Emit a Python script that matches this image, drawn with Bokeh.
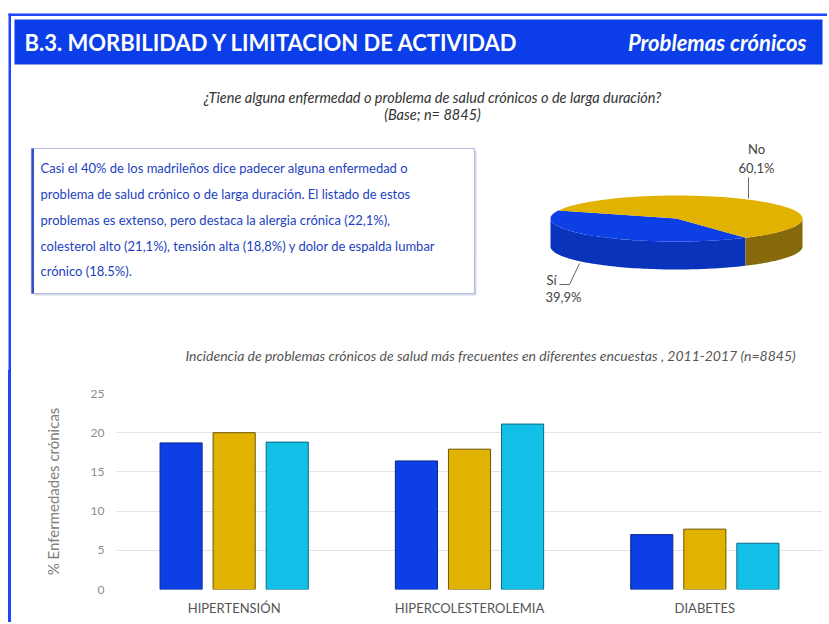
import numpy as np
from bokeh.plotting import figure
from bokeh.models import Range1d, FactorRange, FixedTicker, ColumnDataSource, Spacer
from bokeh.layouts import column, row
from bokeh.transform import dodge
from bokeh.core.properties import value
from bokeh.embed import file_html
from bokeh.resources import INLINE

# ---------------- data ----------------
header_left = "B.3. MORBILIDAD Y LIMITACION DE ACTIVIDAD"
header_right = "Problemas crónicos"
question_lines = ["¿Tiene alguna enfermedad o problema de salud crónicos o de larga duración?",
                  "(Base; n= 8845)"]
summary_lines = [
    "Casi el 40% de los madrileños dice padecer alguna enfermedad o",
    "problema de salud crónico o de larga duración. El listado de estos",
    "problemas es  extenso, pero destaca la alergia crónica (22,1%),",
    "colesterol alto (21,1%), tensión alta (18,8%) y dolor de espalda lumbar",
    "crónico (18.5%).",
]
pie_labels = ["Sí", "No"]
pie_values = [39.9, 60.1]
bar_title = "Incidencia de problemas crónicos de salud más frecuentes en diferentes encuestas , 2011-2017 (n=8845)"
categories = ["HIPERTENSIÓN", "HIPERCOLESTEROLEMIA", "DIABETES"]
series_1 = [18.7, 16.4, 7.0]
series_2 = [20.0, 17.9, 7.7]
series_3 = [18.8, 21.1, 5.9]
y_ticks = [0, 5, 10, 15, 20, 25]

FONT = value("Lato")
FRAME_BLUE = "#1f45ff"
HEADER_BLUE = "#0b3ee8"
BLUE = "#0c3fe6"
YELLOW = "#e2b200"
CYAN = "#12bfe6"

TOP_H = 370
W = 827

# ---------------- top panel (page coordinates) ----------------
p1 = figure(width=W, height=TOP_H, x_range=Range1d(0, W), y_range=Range1d(TOP_H, 0),
            output_backend="svg", toolbar_location=None, min_border=0,
            x_axis_location=None, y_axis_location=None, outline_line_color=None)
p1.grid.visible = False

# frame lines
p1.quad(left=[8], right=[W], top=[13], bottom=[15.5], color=FRAME_BLUE, line_width=0)
p1.quad(left=[8], right=[10.5], top=[13], bottom=[TOP_H + 1], color=FRAME_BLUE, line_width=0)

# header band
p1.quad(left=[14], right=[822], top=[19], bottom=[64], color=HEADER_BLUE, line_width=0)
p1.text(x=[24], y=[42], text=[header_left], text_font=FONT, text_font_style="bold",
        text_font_size="22px", text_color="white", text_baseline="middle", text_align="left")
p1.text(x=[806], y=[42], text=[header_right], text_font=FONT, text_font_style="bold italic",
        text_font_size="22px", text_color="white", text_baseline="middle", text_align="right")

# question
p1.text(x=[432, 432], y=[97, 114], text=question_lines, text_font=FONT, text_font_style="italic",
        text_font_size="14.5px", text_color="#333333", text_baseline="middle", text_align="center")

# summary box
p1.quad(left=[33], right=[476], top=[150], bottom=[295], color="#d5d9e6", line_width=0)
p1.quad(left=[31], right=[474], top=[148], bottom=[293], fill_color="white",
        line_color="#b4bde0", line_width=1.2)
p1.quad(left=[31], right=[33.5], top=[148], bottom=[293], color="#3450c4", line_width=0)
p1.text(x=[40] * len(summary_lines), y=[167, 193.5, 219, 245, 270], text=summary_lines,
        text_font=FONT, text_font_size="13px", text_color="#1d3fbf",
        text_baseline="middle", text_align="left")

# 3D-like pie from the values
cx, cy, rx, ry, depth = 676, 218, 126, 23, 28
tot = sum(pie_values)
end_blue = 303.2
spans = [v / tot * 360 for v in pie_values]
starts = [end_blue - spans[0], end_blue]
top_cols = [BLUE, YELLOW]
side_cols = ["#0a33bc", "#86690a"]


def ell(th_deg, dy=0.0):
    t = np.radians(th_deg)
    return cx + rx * np.cos(t), cy - ry * np.sin(t) + dy


for s, sp, col in zip(starts, spans, side_cols):
    a1, a2 = s, s + sp
    for k in (-360, 0, 360):
        lo, hi = max(a1 + k, 180), min(a2 + k, 360)
        if hi > lo:
            th = np.linspace(lo, hi, 80)
            xt, yt = ell(th)
            xb, yb = ell(th[::-1], depth)
            p1.patch(np.concatenate([xt, xb]), np.concatenate([yt, yb]), color=col, line_width=0)

for s, sp, col in zip(starts, spans, top_cols):
    th = np.linspace(s, s + sp, 160)
    xt, yt = ell(th)
    p1.patch(np.concatenate([[cx], xt]), np.concatenate([[cy], yt]), color=col, line_width=0)

pct = [f"{v:.1f}".replace(".", ",") + "%" for v in pie_values]
p1.text(x=[551, 563], y=[279, 296], text=[pie_labels[0], pct[0]], text_font=FONT,
        text_font_size="13px", text_color="#444444", text_baseline="middle", text_align="center")
p1.text(x=[756, 756], y=[148, 167], text=[pie_labels[1], pct[1]], text_font=FONT,
        text_font_size="13px", text_color="#444444", text_baseline="middle", text_align="center")
p1.line(x=[748, 748], y=[177, 198], line_color="#666666", line_width=1)
p1.line(x=[559, 569, 579], y=[284, 284, 263], line_color="#666666", line_width=1)

# bar chart subtitle
p1.text(x=[490], y=[355], text=[bar_title], text_font=FONT, text_font_style="italic",
        text_font_size="14px", text_color="#555555", text_baseline="middle", text_align="center")

# ---------------- bar chart ----------------
BOT_H = 252
p2 = figure(width=811, height=BOT_H, x_range=FactorRange(*categories, range_padding=0),
            y_range=Range1d(0, 25), output_backend="svg", toolbar_location=None,
            min_border_left=105, min_border_right=0, min_border_top=23, min_border_bottom=BOT_H - 219,
            outline_line_color=None)
src = ColumnDataSource(dict(cat=categories, s1=series_1, s2=series_2, s3=series_3))
off, bw = 0.2255, 0.179
p2.vbar(x=dodge("cat", -off, range=p2.x_range), top="s1", width=bw, source=src,
        fill_color=BLUE, line_color="#0a2a8a", line_width=1)
p2.vbar(x=dodge("cat", 0, range=p2.x_range), top="s2", width=bw, source=src,
        fill_color=YELLOW, line_color="#6e5600", line_width=1)
p2.vbar(x=dodge("cat", off, range=p2.x_range), top="s3", width=bw, source=src,
        fill_color=CYAN, line_color="#0a6a86", line_width=1)

p2.xgrid.visible = False
p2.ygrid.grid_line_color = "#e3e3e3"
p2.ygrid.level = "underlay"
p2.yaxis.ticker = FixedTicker(ticks=y_ticks)
p2.yaxis.axis_line_color = None
p2.yaxis.major_tick_line_color = None
p2.yaxis.minor_tick_line_color = None
p2.yaxis.major_tick_out = 0
p2.yaxis.major_tick_in = 0
p2.yaxis.major_label_text_color = "#8c8c8c"
p2.yaxis.major_label_text_font = "Lato"
p2.yaxis.major_label_text_font_size = "12px"
p2.yaxis.major_label_standoff = 12
p2.yaxis.axis_label = "% Enfermedades crónicas"
p2.yaxis.axis_label_text_font = "Lato"
p2.yaxis.axis_label_text_font_style = "normal"
p2.yaxis.axis_label_text_font_size = "15px"
p2.yaxis.axis_label_text_color = "#808080"
p2.yaxis.axis_label_standoff = 26

p2.xaxis.axis_line_color = None
p2.xaxis.major_tick_line_color = None
p2.xaxis.minor_tick_line_color = None
p2.xaxis.major_tick_out = 0
p2.xaxis.major_tick_in = 0
p2.xaxis.major_label_text_color = "#555555"
p2.xaxis.major_label_text_font = "Lato"
p2.xaxis.major_label_text_font_size = "13px"
p2.xaxis.major_label_standoff = 10

gap = Spacer(width=8, height=BOT_H)
strip = Spacer(width=3, height=BOT_H, styles={"background-color": FRAME_BLUE})

layout = column(p1, row(gap, strip, p2))
open("out.html", "w").write(file_html(layout, INLINE))
